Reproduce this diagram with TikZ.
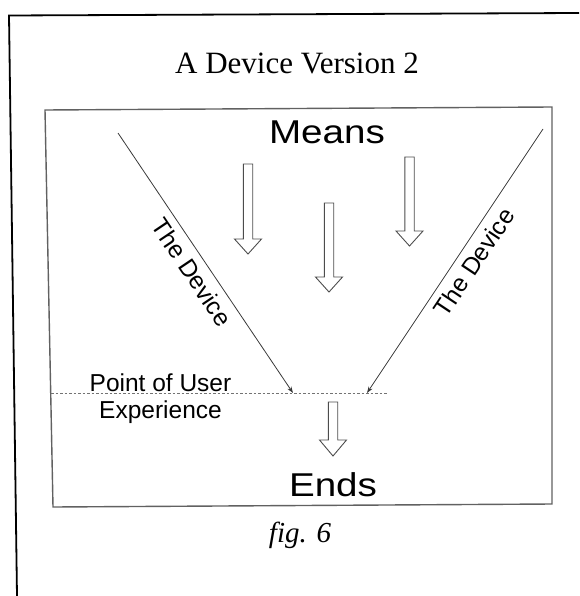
\documentclass[tikz,border=0pt]{standalone}
\usepackage{fontspec}
\setmainfont{Liberation Serif}
\newfontfamily\labelsans{Liberation Sans}
\newfontfamily\widesans[FakeStretch=1.17]{Liberation Sans}
\usetikzlibrary{arrows.meta}

\definecolor{panelgray}{gray}{0.38}
\definecolor{linegray}{gray}{0.22}
\definecolor{dashgray}{gray}{0.45}
\definecolor{arrowgray}{gray}{0.3}

% hollow block arrow pointing down: centre x, shaft top, head base, tip
\newcommand{\hollowarrow}[4]{%
  \draw[blockarrow] (#1-4.7,#2) -- (#1+4.7,#2) -- (#1+4.7,#3) -- (#1+13.5,#3)
    -- (#1,#4) -- (#1-13.5,#3) -- (#1-4.7,#3) -- cycle;}

\begin{document}
\begin{tikzpicture}[x=1pt,y=-1pt,
  frameline/.style={line width=1.8pt, draw=black},
  panelline/.style={line width=1.4pt, draw=panelgray},
  deviceline/.style={line width=0.8pt, draw=linegray,
    -{Stealth[length=6.5pt,width=4.5pt]}},
  uxline/.style={line width=0.8pt, draw=dashgray, dash pattern=on 2.5pt off 2pt},
  blockarrow/.style={line width=0.9pt, draw=arrowgray},
  titletext/.style={font=\fontsize{31}{37}\selectfont, anchor=base, inner sep=0pt},
  bigword/.style={font=\widesans\fontsize{33}{40}\selectfont, anchor=base, inner sep=0pt},
  smallword/.style={font=\labelsans\fontsize{24.5}{29}\selectfont, anchor=base, inner sep=0pt},
  devicelabel/.style={font=\labelsans\fontsize{24.5}{29}\selectfont, sloped, inner sep=3pt},
  captiontext/.style={font=\itshape\fontsize{29}{35}\selectfont, anchor=base, inner sep=0pt},
]
\useasboundingbox (0,0) rectangle (579,596);

% page frame (left and top edges)
\draw[frameline] (17,596) -- (9,15.5) -- (579,13);

% panel
\draw[panelline] (45,110) -- (552,107) -- (552,504) -- (53,507) -- cycle;

% texts
\node[titletext] (title) at (297,74) {A Device Version 2};
\node[bigword] (means) at (327,143) {Means};
\node[bigword] (ends) at (333,496) {Ends};
\node[smallword] (pou) at (160.5,391) {Point of User};
\node[smallword] (exp) at (160.5,418) {Experience};
\node[captiontext] (fig) at (300,542) {fig. 6};

% line of user experience
\coordinate (uxL) at (51,393.5);
\coordinate (uxR) at (387,393.5);
\draw[uxline] (uxL) -- (uxR);

% the two device edges
\coordinate (lt) at (118,133);
\coordinate (lb) at (293,393);
\coordinate (rt) at (543,129);
\coordinate (rb) at (367,393);
\draw[deviceline] (lt) -- node[devicelabel, pos=0.5, below=4pt] (ldev) {The Device} (lb);
\draw[deviceline] (rt) -- node[devicelabel, pos=0.47, below=4pt] (rdev) {The Device} (rb);

% hollow arrows
\hollowarrow{248}{164}{239}{254}
\hollowarrow{329}{203}{277}{292}
\hollowarrow{409.5}{157}{231}{246}
\hollowarrow{333}{402}{440}{456}
\end{tikzpicture}
\end{document}
